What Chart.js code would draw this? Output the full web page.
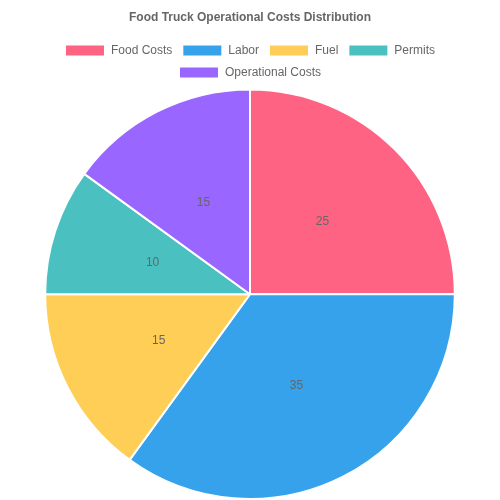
<!DOCTYPE html>
<html>
<head>
<meta charset="utf-8">
<script src="https://cdn.jsdelivr.net/npm/chart.js@4"></script>
<style>
    html, body { margin: 0; padding: 0; background: #fff; }
    #wrap { width: 500px; height: 500px; }
</style>
</head>
<body>
<div id="wrap"><canvas id="chart"></canvas></div>
<script>
var categories = ["Food Costs", "Labor", "Fuel", "Permits", "Operational Costs"];
var costValues = [25, 35, 15, 10, 15];
var sliceColors = [
    "rgb(255, 99, 132)",
    "rgb(54, 162, 235)",
    "rgb(255, 206, 86)",
    "rgb(75, 192, 192)",
    "rgb(153, 102, 255)",
];

// draw the value in the middle of each slice
var sliceLabels = {
    id: "sliceLabels",
    afterDatasetsDraw: function (chart) {
        var ctx = chart.ctx;
        var meta = chart.getDatasetMeta(0);
        ctx.save();
        ctx.font = "12px 'Helvetica Neue', Helvetica, Arial, sans-serif";
        ctx.fillStyle = "#666";
        ctx.textAlign = "center";
        ctx.textBaseline = "middle";
        meta.data.forEach(function (arc, i) {
            var p = arc.getCenterPoint();
            ctx.fillText(chart.data.datasets[0].data[i], p.x, p.y);
        });
        ctx.restore();
    },
};

var ctx = document.getElementById("chart").getContext("2d");
var myPieChart = new Chart(ctx, {
    type: "pie",
    data: {
        labels: categories,
        datasets: [
            {
                label: "Operational Costs",
                data: costValues,
                backgroundColor: sliceColors,
                borderColor: "#fff",
                borderWidth: 2,
            },
        ],
    },
    options: {
        responsive: true,
        maintainAspectRatio: false,
        animation: false,
        plugins: {
            title: {
                display: true,
                text: "Food Truck Operational Costs Distribution",
                color: "#666",
                font: { size: 12, weight: "bold" },
            },
            legend: {
                position: "top",
                labels: { color: "#666" },
            },
        },
    },
    plugins: [sliceLabels],
});
</script>
</body>
</html>
